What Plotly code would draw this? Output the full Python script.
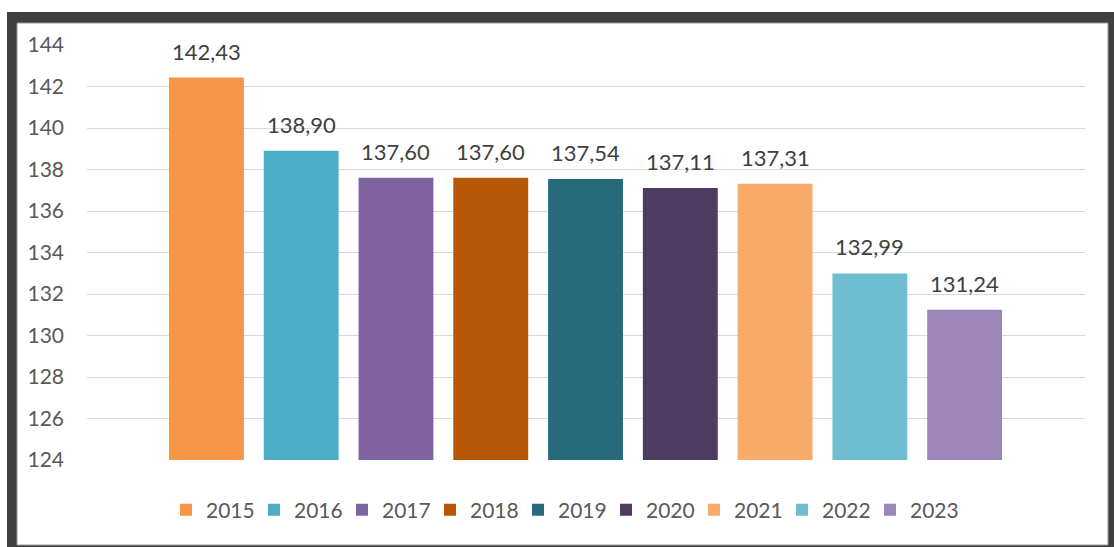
import plotly.graph_objects as go

# Average values per year
years = ["2015", "2016", "2017", "2018", "2019", "2020", "2021", "2022", "2023"]
values = [142.43, 138.90, 137.60, 137.60, 137.54, 137.11, 137.31, 132.99, 131.24]
colors = ["#F79646", "#4BACC6", "#8064A2", "#B65708", "#276A7C",
          "#4D3B62", "#F9AB6B", "#6FBDD1", "#9C85B8"]
y_ticks = list(range(124, 145, 2))

W, H = 1114, 547
L, R, T, B = 87, 29, 45, 87
plot_w, plot_h = W - L - R, H - T - B
FONT = "Lato"


def px_to_paper(x, y):
    return (x - L) / plot_w, (H - B - y) / plot_h


fig = go.Figure()
for i, (yr, v, c) in enumerate(zip(years, values, colors)):
    fig.add_trace(go.Bar(
        x=[i], y=[v], name=yr, marker=dict(color=c, line=dict(width=0)),
        width=0.79, hoverinfo="name+y",
    ))

# value labels with comma decimal separator
annotations = []
for i, v in enumerate(values):
    annotations.append(dict(
        x=i, y=v, xref="x", yref="y", text=f"{v:.2f}".replace(".", ","),
        showarrow=False, yanchor="bottom", yshift=11,
        font=dict(family=FONT, size=22, color="#404040"),
    ))

# outer dark frame and white inner panel
fx0, fy0 = px_to_paper(7, 12)
fx1, fy1 = px_to_paper(1120, 553)
ix0, iy0 = px_to_paper(17, 23)
ix1, iy1 = px_to_paper(1108, 545)
shapes = [
    dict(type="rect", xref="paper", yref="paper", x0=fx0, y0=fy1, x1=fx1, y1=fy0,
         fillcolor="#404040", line=dict(width=0), layer="below"),
    dict(type="rect", xref="paper", yref="paper", x0=ix0, y0=iy1, x1=ix1, y1=iy0,
         fillcolor="#FFFFFF", line=dict(color="#9A9A9A", width=1), layer="below"),
]

lx, ly = px_to_paper(562, 510)

fig.update_layout(
    width=W, height=H,
    margin=dict(l=L, r=R, t=T, b=B),
    paper_bgcolor="#FFFFFF",
    plot_bgcolor="rgba(0,0,0,0)",
    barmode="overlay",
    showlegend=True,
    legend=dict(
        orientation="h", x=lx, y=ly, xanchor="center", yanchor="middle",
        font=dict(family=FONT, size=21, color="#595959"),
        entrywidth=43, entrywidthmode="pixels", traceorder="normal",
        bgcolor="rgba(0,0,0,0)",
    ),
    xaxis=dict(
        range=[-1.26, 9.27], showticklabels=False, showgrid=False,
        zeroline=False, showline=False, fixedrange=True,
    ),
    yaxis=dict(
        range=[124, 144], tickvals=y_ticks, showgrid=True,
        gridcolor="#D9D9D9", gridwidth=1, zeroline=False, showline=False,
        ticks="", ticklabelstandoff=22,
        tickfont=dict(family=FONT, size=21, color="#595959"),
    ),
    annotations=annotations,
    shapes=shapes,
)

fig.write_html("out.html")
